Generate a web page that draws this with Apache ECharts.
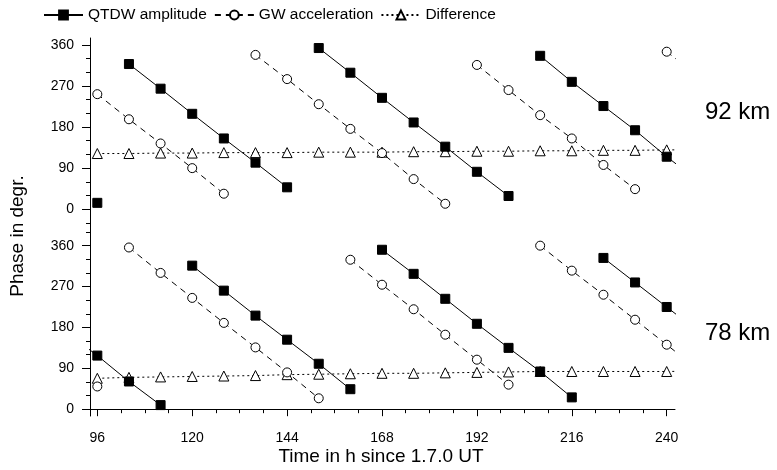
<!DOCTYPE html>
<html>
<head>
<meta charset="utf-8">
<script src="https://cdn.jsdelivr.net/npm/echarts@6/dist/echarts.min.js"></script>
<style>html,body{margin:0;padding:0;background:#fff;}#c{width:777px;height:470px;}</style>
</head>
<body>
<div id="c"></div>
<script>
// ---- data (phase in degrees, every 8 h) ----
const hours = [88, 96, 104, 112, 120, 128, 136, 144, 152, 160, 168, 176, 184, 192, 200, 208, 216, 224, 232, 240, 248];

// 92 km
const qtdw92 = [null, 14, 318, 264, 209, 155, 102, 48, 353, 299, 244, 190, 137, 82, 29, 336, 279, 226, 173, 115, 62];
const gw92   = [null, 252, 197, 144, 90, 34, 338, 285, 230, 176, 123, 66, 12, 316, 261, 206, 155, 97, 44, 345, 291];
const diff92 = [null, 122, 122, 123, 123, 124, 124, 124, 125, 125, 125, 126, 126, 127, 127, 128, 128, 129, 129, 130, 130];

// 78 km
const qtdw78 = [171, 118, 61, 9, 316, 261, 206, 153, 100, 44, 351, 298, 243, 188, 135, 83, 26, 333, 279, 225, 171];
const gw78   = [null, 50, 356, 300, 245, 190, 136, 81, 24, 329, 274, 220, 164, 109, 54, 360, 305, 252, 197, 142, 87];
const diff78 = [null, 68, 70, 71, 72, 73, 74, 76, 77, 78, 79, 79, 80, 81, 82, 83, 83, 83, 83, 83, 84];

// ---- ticks / labels ----
const xLabelValues = [96, 120, 144, 168, 192, 216, 240];
const xMinorTicks = [96, 102, 108, 114, 120, 126, 132, 138, 144, 150, 156, 162, 168, 174, 180, 186, 192, 198, 204, 210, 216, 222, 228, 234, 240];
const yLabelValues = [0, 90, 180, 270, 360];
const yMinorTop = [-30, 0, 30, 60, 90, 120, 150, 180, 210, 240, 270, 300, 330, 360];
const yMinorBottom = [0, 30, 60, 90, 120, 150, 180, 210, 240, 270, 300, 330, 360, 390];

const seriesNames = ['QTDW amplitude', 'GW acceleration', 'Difference'];
const panelLabels = ['92 km', '78 km'];
const xTitle = 'Time in h since 1.7.0 UT';
const yTitle = 'Phase in degr.';

// break a phase curve where it wraps from 0 back to 360
function toSegments(values) {
  const out = [];
  for (let i = 0; i < hours.length; i++) {
    const v = values[i];
    if (v === null) { out.push([hours[i], null]); continue; }
    const prev = i > 0 ? values[i - 1] : null;
    if (prev !== null && v - prev > 180) out.push([null, null]);
    out.push([hours[i], v]);
  }
  return out;
}

const FONT = 'Liberation Sans, Arial, sans-serif';
const XMIN = 94.15, XMAX = 242.1;

const styles = [
  { symbol: 'rect', symbolSize: 9, itemStyle: { color: '#000', borderColor: '#000', borderWidth: 1 }, lineStyle: { color: '#000', width: 1, type: 'solid' } },
  { symbol: 'circle', symbolSize: 9, itemStyle: { color: '#fff', borderColor: '#000', borderWidth: 1 }, lineStyle: { color: '#000', width: 1, type: [6, 5] } },
  { symbol: 'triangle', symbolSize: 10, itemStyle: { color: '#fff', borderColor: '#000', borderWidth: 1 }, lineStyle: { color: '#000', width: 1, type: [2, 3] } }
];

function mk(name, idx, values, gridIdx) {
  const s = styles[idx];
  return {
    name: name, type: 'line', xAxisIndex: gridIdx === 0 ? 0 : 1, yAxisIndex: gridIdx === 0 ? 0 : 2,
    data: toSegments(values), connectNulls: false, clip: true,
    symbol: s.symbol, symbolSize: s.symbolSize, showAllSymbol: true,
    itemStyle: s.itemStyle, lineStyle: s.lineStyle,
    emphasis: { disabled: true }, z: 3 - idx
  };
}

const axisLineStyle = { show: true, lineStyle: { color: '#000', width: 1 } };

const option = {
  animation: false,
  textStyle: { fontFamily: FONT, color: '#000' },
  legend: {
    top: 7, left: 43, padding: 0, itemWidth: 39, itemHeight: 11, itemGap: 7,
    textStyle: { fontSize: 15.5, color: '#000', fontFamily: FONT },
    data: seriesNames
  },
  grid: [
    { left: 90, width: 585, top: 38, height: 189.5, outerBoundsMode: 'none' },
    { left: 90, width: 585, top: 227.5, height: 188.5, outerBoundsMode: 'none' }
  ],
  xAxis: [
    { type: 'value', gridIndex: 0, min: XMIN, max: XMAX, show: false },
    { type: 'value', gridIndex: 1, min: XMIN, max: XMAX,
      axisLine: axisLineStyle,
      axisTick: { show: true, length: 4, customValues: xMinorTicks, lineStyle: { color: '#000' } },
      axisLabel: { show: true, customValues: xLabelValues, margin: 15, fontSize: 14, color: '#000', fontFamily: FONT },
      splitLine: { show: false } },
    { type: 'value', gridIndex: 1, position: 'bottom', offset: 0, min: XMIN, max: XMAX,
      axisLine: { show: false },
      axisTick: { show: true, length: 7, customValues: xLabelValues, lineStyle: { color: '#000' } },
      axisLabel: { show: false }, splitLine: { show: false } }
  ],
  yAxis: [
    { type: 'value', gridIndex: 0, min: -40, max: 375, position: 'left',
      axisLine: axisLineStyle,
      axisTick: { show: true, length: 4, customValues: yMinorTop, lineStyle: { color: '#000' } },
      axisLabel: { show: true, customValues: yLabelValues, margin: 16, fontSize: 14, color: '#000', fontFamily: FONT },
      splitLine: { show: false } },
    { type: 'value', gridIndex: 0, min: -40, max: 375, position: 'left', offset: 0,
      axisLine: { show: false },
      axisTick: { show: true, length: 8, customValues: yLabelValues, lineStyle: { color: '#000' } },
      axisLabel: { show: false }, splitLine: { show: false } },
    { type: 'value', gridIndex: 1, min: -15, max: 400, position: 'left',
      axisLine: axisLineStyle,
      axisTick: { show: true, length: 4, customValues: yMinorBottom, lineStyle: { color: '#000' } },
      axisLabel: { show: true, customValues: yLabelValues, margin: 16, fontSize: 14, color: '#000', fontFamily: FONT },
      splitLine: { show: false } },
    { type: 'value', gridIndex: 1, min: -15, max: 400, position: 'left', offset: 0,
      axisLine: { show: false },
      axisTick: { show: true, length: 8, customValues: yLabelValues, lineStyle: { color: '#000' } },
      axisLabel: { show: false }, splitLine: { show: false } }
  ],
  graphic: [
    { type: 'text', x: 381, y: 457, style: { text: xTitle, font: '19px ' + FONT, fill: '#000', align: 'center', verticalAlign: 'middle', textAlign: 'center', textVerticalAlign: 'middle' } },
    { type: 'text', x: 18, y: 236, rotation: Math.PI / 2, style: { text: yTitle, font: '19px ' + FONT, fill: '#000', align: 'center', verticalAlign: 'middle', textAlign: 'center', textVerticalAlign: 'middle' } },
    { type: 'text', x: 705, y: 112, style: { text: panelLabels[0], font: '24px ' + FONT, fill: '#000', align: 'left', verticalAlign: 'middle', textAlign: 'left', textVerticalAlign: 'middle' } },
    { type: 'text', x: 705, y: 333, style: { text: panelLabels[1], font: '24px ' + FONT, fill: '#000', align: 'left', verticalAlign: 'middle', textAlign: 'left', textVerticalAlign: 'middle' } }
  ],
  series: [
    mk(seriesNames[0], 0, qtdw92, 0),
    mk(seriesNames[1], 1, gw92, 0),
    mk(seriesNames[2], 2, diff92, 0),
    mk(seriesNames[0], 0, qtdw78, 1),
    mk(seriesNames[1], 1, gw78, 1),
    mk(seriesNames[2], 2, diff78, 1)
  ]
};

const chart = echarts.init(document.getElementById('c'), null, { renderer: 'canvas' });
chart.setOption(option);
</script>
</body>
</html>
